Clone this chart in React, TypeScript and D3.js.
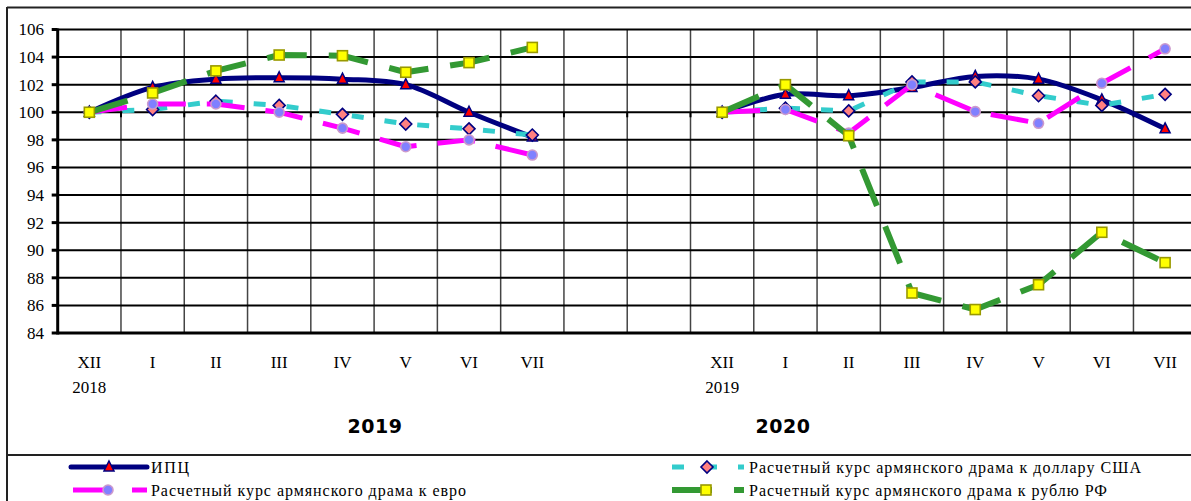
import React from 'react';
import * as d3 from 'd3';

const monthLabels = ['XII', 'I', 'II', 'III', 'IV', 'V', 'VI', 'VII'];
const periodTitles = ['2019', '2020'];
const baseYears = ['2018', '2019'];
const yTicks = [84, 86, 88, 90, 92, 94, 96, 98, 100, 102, 104, 106];

const cpi2019 = [100, 101.8, 102.4, 102.5, 102.4, 102.0, 100.0, 98.2];
const cpi2020 = [100, 101.3, 101.2, 101.8, 102.6, 102.4, 100.9, 98.8];
const usd2019 = [100, 100.2, 100.8, 100.5, 99.85, 99.15, 98.8, 98.35];
const usd2020 = [100, 100.3, 100.1, 102.2, 102.2, 101.2, 100.5, 101.3];
const eur2019 = [100, 100.6, 100.6, 100.0, 98.85, 97.5, 98.0, 96.9];
const eur2020 = [100, 100.2, 98.5, 102.0, 100.05, 99.2, 102.1, 104.6];
const rub2019 = [100, 101.4, 103.0, 104.15, 104.1, 102.9, 103.6, 104.7];
const rub2020 = [100, 102.0, 98.3, 86.9, 85.7, 87.5, 91.3, 89.1];

const seriesNames = [
  'ИПЦ',
  'Расчетный курс армянского драма к доллару США',
  'Расчетный курс армянского драма к евро',
  'Расчетный курс армянского драма к рублю РФ',
];

const W = 1191;
const H = 501;
const plotLeft = 57.7;
const slot = 63.28;
const plotTop = 29.5;
const plotBottom = 333;

const keys2019 = monthLabels.map((m) => '2019|' + m);
const keys2020 = monthLabels.map((m) => '2020|' + m);
const domain = [...keys2019, 'gap|1', 'gap|2', ...keys2020];

const x = d3.scaleBand<string>().domain(domain).range([plotLeft, plotLeft + slot * domain.length]).paddingInner(0).paddingOuter(0);
const y = d3.scaleLinear().domain([84, 106]).range([plotBottom, plotTop]);
const cx = (k: string) => (x(k) as number) + x.bandwidth() / 2;

type Pt = [number, number];
const pts = (keys: string[], vals: number[]): Pt[] => vals.map((v, i) => [cx(keys[i]), y(v)]);
const smoothLine = d3.line<Pt>().x((d) => d[0]).y((d) => d[1]).curve(d3.curveCatmullRom.alpha(0.5));
const straightLine = d3.line<Pt>().x((d) => d[0]).y((d) => d[1]);

const NAVY = '#000080';
const MAG = '#FF00FF';
const CYAN = '#33CCCC';
const GREEN = '#339933';

const styles = [
  { color: NAVY, width: 5, dash: undefined as string | undefined, marker: 'tri', smooth: true },
  { color: CYAN, width: 5, dash: '12,21', marker: 'dia', smooth: false },
  { color: MAG, width: 5, dash: '38,21', marker: 'cir', smooth: false },
  { color: GREEN, width: 6, dash: '40,22', marker: 'sq', smooth: false },
];

function Marker({ type, px, py }: { type: string; px: number; py: number }) {
  if (type === 'tri') {
    return <path d={`M${px},${py - 6} L${px + 5},${py + 4} L${px - 5},${py + 4} Z`} fill="#FF0000" stroke={NAVY} strokeWidth={1.5} />;
  }
  if (type === 'dia') {
    return <path d={`M${px},${py - 6} L${px + 6},${py} L${px},${py + 6} L${px - 6},${py} Z`} fill="#FF8080" stroke={NAVY} strokeWidth={1.6} />;
  }
  if (type === 'cir') {
    return <circle cx={px} cy={py} r={5} fill="#8080FF" stroke="#CC99CC" strokeWidth={1.6} />;
  }
  return <rect x={px - 5} y={py - 5} width={10} height={10} fill="#FFFF00" stroke="#999900" strokeWidth={1.6} />;
}

export default function App() {
  const groups = [
    [cpi2019, cpi2020],
    [usd2019, usd2020],
    [eur2019, eur2020],
    [rub2019, rub2020],
  ];
  const plotRight = plotLeft + slot * domain.length;
  const y100 = y(100);
  const serif = '"Liberation Serif", "DejaVu Serif", serif';

  const legendItems = [
    { s: 0, x0: 71, x1: 147, mx: 109, ty: 467, tx: 151, tl: 38 },
    { s: 1, x0: 672, x1: 744, mx: 707, ty: 467, tx: 749, tl: 392 },
    { s: 2, x0: 73, x1: 147, mx: 108, ty: 490, tx: 151, tl: 315 },
    { s: 3, x0: 672, x1: 744, mx: 706, ty: 490, tx: 749, tl: 358 },
  ];

  return (
    <svg width={W} height={H} style={{ position: 'absolute', left: 0, top: 0, background: '#fff' }}>
      <rect x={0} y={0} width={W} height={H} fill="#fff" />
      {/* outer frame */}
      <line x1={7} y1={7.5} x2={W} y2={7.5} stroke="#222" strokeWidth={2} />
      <line x1={7} y1={7} x2={7} y2={H} stroke="#222" strokeWidth={2} />
      <line x1={7} y1={455} x2={W} y2={455} stroke="#222" strokeWidth={2} />

      {/* vertical gridlines */}
      {domain.slice(1).map((k) => (
        <line key={'v' + k} x1={x(k)} x2={x(k)} y1={plotTop} y2={plotBottom} stroke="#444" strokeWidth={1.5} />
      ))}
      <line x1={plotRight} x2={plotRight} y1={plotTop} y2={plotBottom} stroke="#444" strokeWidth={1.5} />
      {/* horizontal gridlines */}
      {yTicks.map((t) => (
        <line key={'h' + t} x1={plotLeft} x2={plotRight} y1={y(t)} y2={y(t)} stroke="#000" strokeWidth={2} />
      ))}
      {/* category axis ticks at 100 */}
      {domain.slice(1).map((k) => (
        <line key={'t' + k} x1={x(k)} x2={x(k)} y1={y100} y2={y100 + 5} stroke="#000" strokeWidth={2} />
      ))}
      {/* axes */}
      <line x1={plotLeft} x2={plotLeft} y1={plotTop - 1} y2={plotBottom + 1.5} stroke="#000" strokeWidth={3} />
      <line x1={plotLeft} x2={plotRight} y1={plotBottom} y2={plotBottom} stroke="#000" strokeWidth={3} />
      {yTicks.map((t) => (
        <g key={'yt' + t}>
          <line x1={plotLeft - 6} x2={plotLeft} y1={y(t)} y2={y(t)} stroke="#000" strokeWidth={3} />
          <text x={44} y={y(t)} dy="0.35em" textAnchor="end" fontFamily={serif} fontSize={17} fill="#000">
            {t}
          </text>
        </g>
      ))}

      {/* category labels */}
      {[keys2019, keys2020].map((keys) =>
        keys.map((k, i) => (
          <text key={'cl' + k} x={cx(k)} y={368} textAnchor="middle" fontFamily={serif} fontSize={17} fill="#000">
            {monthLabels[i]}
          </text>
        ))
      )}
      {[keys2019, keys2020].map((keys, gi) => (
        <text key={'by' + gi} x={cx(keys[0])} y={393} textAnchor="middle" fontFamily={serif} fontSize={17} fill="#000">
          {baseYears[gi]}
        </text>
      ))}
      {periodTitles.map((p, gi) => (
        <text key={'pt' + p} x={gi === 0 ? 375 : 783} y={433} textAnchor="middle" fontFamily='"DejaVu Sans", sans-serif' fontWeight="bold" fontSize={19} letterSpacing={0.5} fill="#000">
          {p}
        </text>
      ))}

      {/* series */}
      {groups.map((g, si) => {
        const st = styles[si];
        const gen = st.smooth ? smoothLine : straightLine;
        const p1 = pts(keys2019, g[0]);
        const p2 = pts(keys2020, g[1]);
        return (
          <g key={'s' + si}>
            {[p1, p2].map((p, pi) => (
              <path key={pi} d={gen(p) || ''} fill="none" stroke={st.color} strokeWidth={st.width} strokeDasharray={st.dash} strokeLinejoin="round" />
            ))}
            {[...p1, ...p2].map((p, i) => (
              <Marker key={i} type={st.marker} px={p[0]} py={p[1]} />
            ))}
          </g>
        );
      })}

      {/* legend */}
      {legendItems.map((it) => {
        const st = styles[it.s];
        return (
          <g key={'lg' + it.s}>
            <line x1={it.x0} x2={it.x1} y1={it.ty} y2={it.ty} stroke={st.color} strokeWidth={st.width} strokeDasharray={st.dash} strokeLinecap={it.s === 0 ? 'round' : 'butt'} />
            <Marker type={st.marker} px={it.mx} py={it.ty} />
            <text x={it.tx} y={it.ty} dy="0.35em" fontFamily={serif} fontSize={16} fill="#000" textLength={it.tl} lengthAdjust="spacing">
              {seriesNames[it.s]}
            </text>
          </g>
        );
      })}
    </svg>
  );
}
